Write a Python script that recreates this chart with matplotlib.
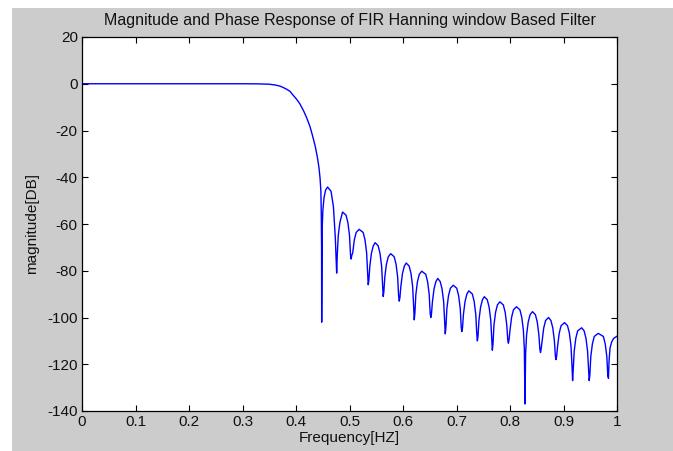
import matplotlib
matplotlib.use("Agg")
import matplotlib.pyplot as plt
from matplotlib.patches import Rectangle

# ---- data ----
freq = [0.000, 0.300, 0.330, 0.350, 0.360, 0.370, 0.376, 0.383, 0.389, 0.395,
        0.401, 0.407, 0.414, 0.420, 0.426, 0.431, 0.436, 0.440, 0.443, 0.445,
        0.4465, 0.4473, 0.4478,
        # lobe 1
        0.448, 0.4489, 0.4502, 0.4524, 0.4553, 0.459, 0.4655, 0.470, 0.4735,
        # lobe 2
        0.476, 0.4772, 0.479, 0.482, 0.4855, 0.487, 0.4935, 0.497, 0.500, 0.5018,
        # lobe 3
        0.503, 0.5042, 0.506, 0.509, 0.5125, 0.518, 0.5255, 0.529, 0.532, 0.5338,
        # lobe 4
        0.535, 0.5362, 0.538, 0.541, 0.5445, 0.548, 0.5535, 0.557, 0.560, 0.5618,
        # lobe 5
        0.563, 0.5642, 0.566, 0.569, 0.5725, 0.577, 0.5835, 0.587, 0.590, 0.5918,
        # lobe 6
        0.593, 0.5942, 0.596, 0.599, 0.6025, 0.606, 0.6115, 0.615, 0.618, 0.6198,
        # lobe 7
        0.621, 0.6222, 0.624, 0.627, 0.6305, 0.635, 0.6425, 0.646, 0.649, 0.6508,
        # lobe 8
        0.652, 0.6532, 0.655, 0.658, 0.6615, 0.665, 0.6695, 0.673, 0.676, 0.6778,
        # lobe 9
        0.679, 0.6802, 0.682, 0.685, 0.6885, 0.694, 0.7005, 0.704, 0.707, 0.7088,
        # lobe 10
        0.710, 0.7112, 0.713, 0.716, 0.7195, 0.723, 0.7295, 0.733, 0.736, 0.7378,
        # lobe 11
        0.739, 0.7402, 0.742, 0.745, 0.7485, 0.752, 0.7575, 0.761, 0.764, 0.7658,
        # lobe 12
        0.767, 0.7682, 0.770, 0.773, 0.7765, 0.781, 0.7875, 0.791, 0.794, 0.7958,
        # lobe 13
        0.797, 0.7982, 0.800, 0.803, 0.8065, 0.812, 0.8185, 0.822, 0.825, 0.8268,
        # lobe 14
        0.828, 0.8292, 0.831, 0.834, 0.8375, 0.842, 0.8475, 0.851, 0.854, 0.8558,
        # lobe 15
        0.857, 0.8582, 0.860, 0.863, 0.8665, 0.872, 0.8765, 0.880, 0.883, 0.8848,
        # lobe 16
        0.886, 0.8872, 0.889, 0.892, 0.8955, 0.902, 0.9075, 0.911, 0.914, 0.9158,
        # lobe 17
        0.917, 0.9182, 0.920, 0.923, 0.9265, 0.934, 0.9385, 0.942, 0.945, 0.9468,
        # lobe 18
        0.948, 0.9492, 0.951, 0.954, 0.9575, 0.965, 0.9745, 0.978, 0.981, 0.9828,
        # tail
        0.984, 0.9852, 0.987, 0.990, 0.9935, 1.000]

mag_db = [0.0, 0.0, -0.05, -0.2, -0.5, -1.0, -1.6, -2.4, -3.3, -5.0,
          -6.6, -8.5, -11.5, -14.6, -18.2, -22.3, -26.8, -31.5, -36.0, -40.5,
          -46.0, -56.0, -70.0,
          -102.0, -62.2, -54.2, -48.7, -45.5, -44.2, -46.0, -52.7, -66.0,
          -81.0, -72.9, -64.9, -59.4, -56.2, -54.9, -56.2, -59.4, -64.9, -72.9,
          -75.0, -73.5, -72.3, -66.8, -63.6, -62.3, -63.6, -66.8, -72.3, -80.3,
          -86.0, -84.0, -78.0, -72.5, -69.3, -68.0, -69.3, -72.5, -78.0, -86.0,
          -91.0, -89.0, -82.7, -77.2, -74.0, -72.7, -74.0, -77.2, -82.7, -90.7,
          -93.0, -91.5, -86.7, -81.2, -78.0, -76.7, -78.0, -81.2, -86.7, -94.7,
          -101.0, -98.2, -90.2, -84.7, -81.5, -80.2, -81.5, -84.7, -90.2, -98.2,
          -100.0, -98.5, -93.3, -87.8, -84.6, -83.3, -84.6, -87.8, -93.3, -101.3,
          -107.0, -104.2, -96.2, -90.7, -87.5, -86.2, -87.5, -90.7, -96.2, -104.2,
          -106.0, -104.5, -98.6, -93.1, -89.9, -88.6, -89.9, -93.1, -98.6, -106.6,
          -110.0, -108.0, -101.1, -95.6, -92.4, -91.1, -92.4, -95.6, -101.1, -109.1,
          -114.0, -111.3, -103.3, -97.8, -94.6, -93.3, -94.6, -97.8, -103.3, -109.5,
          -111.0, -109.5, -105.4, -99.9, -96.7, -95.4, -96.7, -99.9, -105.4, -113.4,
          -137.0, -115.5, -107.5, -102.0, -98.8, -97.5, -98.8, -102.0, -107.5, -113.5,
          -115.0, -113.5, -110.0, -104.5, -101.3, -100.0, -101.3, -104.5, -110.0, -116.5,
          -118.0, -116.5, -112.2, -106.7, -103.5, -102.2, -103.5, -106.7, -112.2, -120.2,
          -127.0, -122.4, -114.4, -108.9, -105.7, -104.4, -105.7, -108.9, -114.4, -122.4,
          -127.0, -124.8, -116.8, -111.3, -108.1, -106.8, -108.1, -111.3, -116.8, -124.8,
          -126.0, -118.5, -113.0, -110.5, -109.0, -108.0]

x_ticks = [0, 0.1, 0.2, 0.3, 0.4, 0.5, 0.6, 0.7, 0.8, 0.9, 1]
x_tick_labels = ["0", "0.1", "0.2", "0.3", "0.4", "0.5", "0.6", "0.7", "0.8", "0.9", "1"]
y_ticks = [-140, -120, -100, -80, -60, -40, -20, 0, 20]
y_tick_labels = ["-140", "-120", "-100", "-80", "-60", "-40", "-20", "0", "20"]

title = "Magnitude and Phase Response of FIR Hanning window Based Filter"
xlabel = "Frequency[HZ]"
ylabel = "magnitude[DB]"

# ---- figure ----
plt.rcParams['font.family'] = ['Liberation Sans', 'DejaVu Sans']
W, H = 673, 451
fig = plt.figure(figsize=(W / 100, H / 100), dpi=100, facecolor='white')
fig.patches.append(Rectangle((12 / W, 0), 1 - 12 / W, 1 - 8 / H,
                             transform=fig.transFigure, facecolor='#cccccc',
                             edgecolor='none', zorder=-10))

ax = fig.add_axes([82 / W, 40 / H, 535 / W, 374 / H])
ax.set_facecolor('white')
ax.plot(freq, mag_db, color='#0000ff', linewidth=1.0)

ax.set_xlim(0, 1)
ax.set_ylim(-140, 20)
ax.set_xticks(x_ticks)
ax.set_xticklabels(x_tick_labels)
ax.set_yticks(y_ticks)
ax.set_yticklabels(y_tick_labels)

txt_color = '#111111'
ax.tick_params(direction='in', length=4, width=0.8, top=True, right=True,
               labelsize=11, colors='black', labelcolor=txt_color, pad=3)
for s in ax.spines.values():
    s.set_linewidth(0.9)
    s.set_color('black')

ax.set_title(title, fontsize=11.5, color=txt_color, pad=9)
ax.set_xlabel(xlabel, fontsize=11, color=txt_color, labelpad=1)
ax.set_ylabel(ylabel, fontsize=11, color=txt_color, labelpad=6)

fig.savefig("out.png", dpi=100, facecolor=fig.get_facecolor())
